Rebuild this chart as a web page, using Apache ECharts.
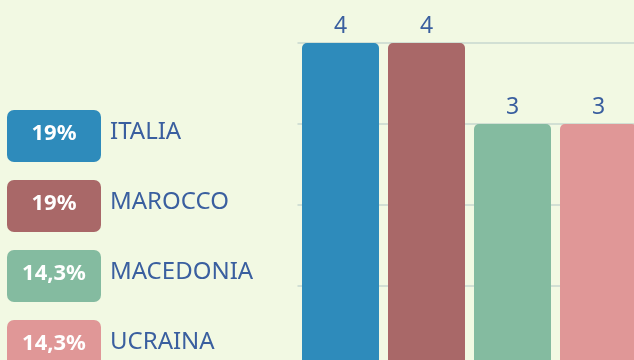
<!DOCTYPE html>
<html><head><meta charset="utf-8">
<style>html,body{margin:0;padding:0;background:#f2f9e3;}#c{width:634px;height:360px;}</style>
<script src="https://cdn.jsdelivr.net/npm/echarts@6/dist/echarts.min.js"></script>
</head><body><div id="c"></div>
<script>
const categories = ['ITALIA', 'MAROCCO', 'MACEDONIA', 'UCRAINA'];
const values = [4, 4, 3, 3];
const percents = ['19%', '19%', '14,3%', '14,3%'];
const colors = ['#2e8bbb', '#a96868', '#84bba0', '#e09797'];

const chart = echarts.init(document.getElementById('c'));
const textColor = '#3a5f9f';
const graphics = [];
categories.forEach((name, i) => {
  const y = 110 + i * 70;
  graphics.push({
    type: 'rect', left: 7, top: y,
    shape: { width: 94, height: 52, r: 7 },
    style: { fill: colors[i] }
  });
  graphics.push({
    type: 'text', x: 54, y: y + 24,
    style: { text: percents[i], fill: '#ffffff', font: 'bold 22px "Noto Sans"', textAlign: 'center', textVerticalAlign: 'middle' }
  });
  graphics.push({
    type: 'text', x: 110, y: y + 22,
    style: { text: name, fill: textColor, font: '24px "Noto Sans"', textAlign: 'left', textVerticalAlign: 'middle' }
  });
});

chart.setOption({
  backgroundColor: '#f2f9e3',
  animation: false,
  grid: { left: 297.5, top: 43, width: 344, height: 324, outerBoundsMode: 'none', containLabel: false },
  xAxis: {
    type: 'category', data: categories,
    axisLine: { show: false }, axisTick: { show: false }, axisLabel: { show: false }
  },
  yAxis: {
    type: 'value', min: 0, max: 4, interval: 1,
    axisLabel: { show: false }, axisLine: { show: false }, axisTick: { show: false },
    splitLine: { lineStyle: { color: '#d2e0d4', width: 2 } }
  },
  series: [{
    type: 'bar',
    data: values.map((v, i) => ({ value: v, itemStyle: { color: colors[i] } })),
    barWidth: 77,
    itemStyle: { borderRadius: [5, 5, 0, 0] },
    label: { show: true, position: 'top', distance: 5, color: textColor, fontSize: 23, fontFamily: 'Noto Sans' }
  }],
  graphic: graphics
});
</script></body></html>
